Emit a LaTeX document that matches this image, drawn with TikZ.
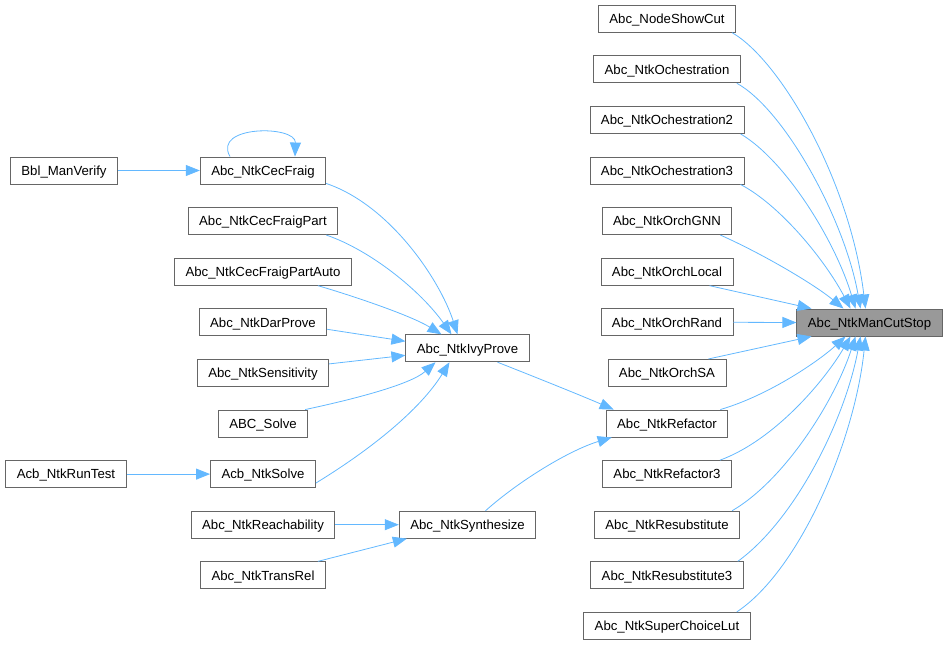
\documentclass[tikz,border=0pt]{standalone}
\usepackage{fontspec}
\setmainfont{Liberation Sans}
\usetikzlibrary{arrows.meta}
\definecolor{edgec}{HTML}{63B8FF}
\definecolor{boxc}{HTML}{666666}
\definecolor{tgtc}{HTML}{999999}
\begin{document}
\begin{tikzpicture}[x=1pt,y=-1pt,
  fn/.style={draw=boxc, line width=0.9pt, fill=white, minimum height=27pt,
    inner xsep=11pt, inner ysep=0pt, text height=9.5pt, text depth=0pt,
    font=\fontsize{13.2}{15}\selectfont},
  tgt/.style={fn, fill=tgtc},
  ed/.style={draw=edgec, line width=0.8pt, -{Triangle[length=14pt,width=11pt]}}]
\useasboundingbox (0,0) rectangle (948,645);
% target
\node[tgt] (t) at (869.5,322.5) {Abc\_NtkManCutStop};
% right column
\node[fn] (ns)   at (667,18.7)  {Abc\_NodeShowCut};
\node[fn] (och)  at (667,69.3)  {Abc\_NtkOchestration};
\node[fn] (och2) at (667,119.9) {Abc\_NtkOchestration2};
\node[fn] (och3) at (667,170.5) {Abc\_NtkOchestration3};
\node[fn] (gnn)  at (667,221.1) {Abc\_NtkOrchGNN};
\node[fn] (loc)  at (667,271.7) {Abc\_NtkOrchLocal};
\node[fn] (rnd)  at (667,322.3) {Abc\_NtkOrchRand};
\node[fn] (sa)   at (667,372.9) {Abc\_NtkOrchSA};
\node[fn] (ref)  at (667,423.5) {Abc\_NtkRefactor};
\node[fn] (ref3) at (667,474.1) {Abc\_NtkRefactor3};
\node[fn] (rs)   at (667,524.7) {Abc\_NtkResubstitute};
\node[fn] (rs3)  at (667,575.3) {Abc\_NtkResubstitute3};
\node[fn] (scl)  at (667,625.9) {Abc\_NtkSuperChoiceLut};
% middle
\node[fn] (iv)  at (467.5,348.3) {Abc\_NtkIvyProve};
\node[fn] (syn) at (467.5,524.7) {Abc\_NtkSynthesize};
% left column
\node[fn] (cf)   at (263,170.5) {Abc\_NtkCecFraig};
\node[fn] (cfp)  at (263,221.1) {Abc\_NtkCecFraigPart};
\node[fn] (cfpa) at (263,271.7) {Abc\_NtkCecFraigPartAuto};
\node[fn] (dp)   at (263,322.3) {Abc\_NtkDarProve};
\node[fn] (sen)  at (263,372.9) {Abc\_NtkSensitivity};
\node[fn] (abs)  at (263,423.5) {ABC\_Solve};
\node[fn] (as)   at (263,474.1) {Acb\_NtkSolve};
\node[fn] (rch)  at (263,524.7) {Abc\_NtkReachability};
\node[fn] (tr)   at (263,575.3) {Abc\_NtkTransRel};
% far left
\node[fn] (bbl) at (64,170.5) {Bbl\_ManVerify};
\node[fn] (rt)  at (66,474.1) {Acb\_NtkRunTest};
% edges to target
\draw[ed] ([xshift=-4pt]ns.south east) .. controls (780,60) and (850,180) .. ([xshift=-4pt]t.north);
\draw[ed] ([xshift=-4pt]och.south east) .. controls (785,110) and (845,220) .. ([xshift=-9pt]t.north);
\draw[ed] ([xshift=-4pt]och2.south east) .. controls (785,160) and (835,240) .. ([xshift=-14pt]t.north);
\draw[ed] ([xshift=-4pt]och3.south east) .. controls (780,205) and (825,260) .. ([xshift=-19pt]t.north);
\draw[ed] ([xshift=-12pt]gnn.south east) .. controls (765,255) and (815,285) .. ([xshift=-26pt]t.north);
\draw[ed] ([xshift=-24pt]loc.south east) -- ([xshift=-58pt]t.north);
\draw[ed] (rnd.east) -- (t.west);
\draw[ed] ([xshift=-18pt]sa.north east) -- ([xshift=-58pt]t.south);
\draw[ed] ([xshift=-8pt]ref.north east) .. controls (770,395) and (820,360) .. ([xshift=-24pt]t.south);
\draw[ed] ([xshift=-12pt]ref3.north east) .. controls (775,440) and (825,380) .. ([xshift=-19pt]t.south);
\draw[ed] ([xshift=-8pt]rs.north east) .. controls (785,480) and (835,400) .. ([xshift=-14pt]t.south);
\draw[ed] ([xshift=-6pt]rs3.north east) .. controls (795,520) and (845,420) .. ([xshift=-9pt]t.south);
\draw[ed] ([xshift=-14pt]scl.north east) .. controls (800,570) and (855,440) .. ([xshift=-4pt]t.south);
% edges into IvyProve
\draw[ed] ([yshift=1pt]cf.south east) .. controls (390,205) and (440,280) .. ([xshift=-10pt]iv.north);
\draw[ed] ([xshift=-12pt]cfp.south east) .. controls (370,250) and (420,290) .. ([xshift=-16pt]iv.north);
\draw[ed] ([xshift=-34pt]cfpa.south east) .. controls (350,295) and (410,315) .. ([xshift=-26pt]iv.north);
\draw[ed] ([yshift=-7pt]dp.east) -- ([yshift=7pt]iv.west);
\draw[ed] ([yshift=9pt]sen.east) -- ([yshift=-7pt]iv.west);
\draw[ed] ([xshift=-3pt]abs.north east) .. controls (350,400) and (410,385) .. ([xshift=-32pt]iv.south);
\draw[ed] ([yshift=5pt]as.south east) .. controls (370,450) and (420,410) .. ([xshift=-18pt]iv.south);
% edges into Refactor
\draw[ed] ([xshift=-32pt]iv.south east) .. controls (530,375) and (580,395) .. ([xshift=8pt]ref.north west);
\draw[ed] ([xshift=18pt]syn.north) .. controls (520,480) and (570,450) .. ([xshift=6pt]ref.south west);
% edges into Synthesize
\draw[ed] (rch.east) -- (syn.west);
\draw[ed] ([xshift=-8pt]tr.north east) -- ([xshift=8pt]syn.south west);
% other
\draw[ed] (bbl.east) -- (cf.west);
\draw[ed] (rt.east) -- (as.west);
\draw[ed] ([xshift=-33pt]cf.north) .. controls (212,125) and (296,125) .. ([xshift=32pt]cf.north);
\end{tikzpicture}
\end{document}
